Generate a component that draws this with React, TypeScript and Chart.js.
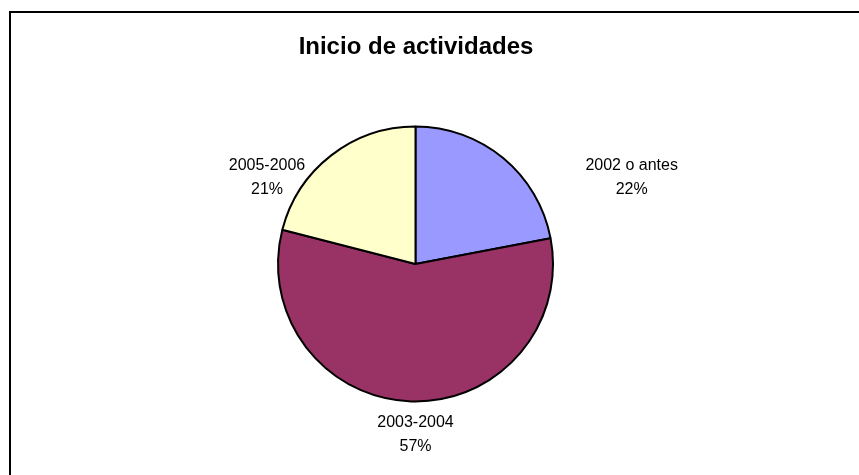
import React, { useEffect, useRef } from "react";
import { Chart, registerables } from "chart.js";

Chart.register(...registerables);

const categories = ["2002 o antes", "2003-2004", "2005-2006"];
const shares = [22, 57, 21];
const percentLabels = ["22%", "57%", "21%"];
const sliceColors = ["#9999FF", "#993366", "#FFFFCC"];
const chartTitle = "Inicio de actividades";

// label placement relative to pie centre, in units of the pie radius
const labelPlacement = [
  { ux: 1.572, uy: -0.63 },
  { ux: 0, uy: 1.239 },
  { ux: -1.08, uy: -0.63 },
];

const textPlugin = {
  id: "excelText",
  afterDraw(chart: any) {
    const ctx = chart.ctx;
    const meta = chart.getDatasetMeta(0);
    ctx.save();
    ctx.fillStyle = "#000";
    ctx.textAlign = "center";
    ctx.textBaseline = "middle";
    ctx.font = "bold 24px 'Liberation Sans', Arial, sans-serif";
    ctx.fillText(chartTitle, 416, 47);
    ctx.font = "16px 'Liberation Sans', Arial, sans-serif";
    meta.data.forEach((arc: any, i: number) => {
      const { x, y, outerRadius } = arc.getProps(["x", "y", "outerRadius"], true);
      const p = labelPlacement[i];
      const lx = x + p.ux * outerRadius;
      const ly = y + p.uy * outerRadius;
      ctx.fillText(categories[i], lx, ly - 12);
      ctx.fillText(percentLabels[i], lx, ly + 12);
    });
    ctx.restore();
  },
};

export default function App() {
  const ref = useRef<HTMLCanvasElement | null>(null);
  useEffect(() => {
    if (!ref.current) return;
    const chart = new Chart(ref.current, {
      type: "pie",
      data: {
        labels: categories,
        datasets: [
          {
            data: shares,
            backgroundColor: sliceColors,
            borderColor: "#000",
            borderWidth: 2,
          },
        ],
      },
      options: {
        animation: false,
        responsive: false,
        events: [],
        layout: { padding: { left: 277, right: 305, top: 125, bottom: 72 } },
        plugins: {
          legend: { display: false },
          tooltip: { enabled: false },
          title: { display: false },
        },
      },
      plugins: [textPlugin],
    });
    return () => chart.destroy();
  }, []);
  return (
    <div style={{ position: "absolute", left: 0, top: 0, width: 859, height: 475, overflow: "hidden", background: "#fff" }}>
      <div
        style={{
          position: "absolute",
          left: 9,
          top: 11,
          width: 900,
          height: 500,
          border: "2px solid #000",
        }}
      />
      <canvas ref={ref} width={859} height={475} style={{ position: "absolute", left: 0, top: 0, width: 859, height: 475 }} />
    </div>
  );
}
